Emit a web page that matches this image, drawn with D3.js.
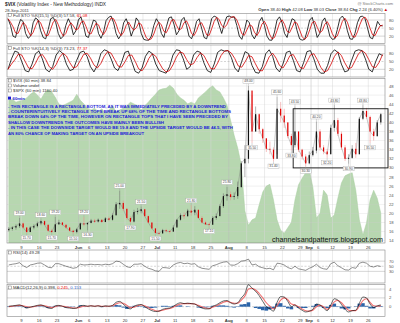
<!DOCTYPE html>
<html><head><meta charset="utf-8">
<script src="https://cdn.jsdelivr.net/npm/d3@7/dist/d3.min.js"></script>
<style>
html,body{margin:0;padding:0;background:#fff;overflow:hidden}
svg{display:block;font-family:"Liberation Sans",Arial,sans-serif}
</style></head><body>
<svg id="chart" width="400" height="323"></svg>
<script>
// ---------------- DATA ----------------
const dates = [
"2011-05-03","2011-05-04","2011-05-05","2011-05-06","2011-05-09","2011-05-10","2011-05-11","2011-05-12","2011-05-13","2011-05-16","2011-05-17","2011-05-18","2011-05-19","2011-05-20","2011-05-23","2011-05-24","2011-05-25","2011-05-26","2011-05-27","2011-05-31",
"2011-06-01","2011-06-02","2011-06-03","2011-06-06","2011-06-07","2011-06-08","2011-06-09","2011-06-10","2011-06-13","2011-06-14","2011-06-15","2011-06-16","2011-06-17","2011-06-20","2011-06-21","2011-06-22","2011-06-23","2011-06-24","2011-06-27","2011-06-28","2011-06-29","2011-06-30",
"2011-07-01","2011-07-05","2011-07-06","2011-07-07","2011-07-08","2011-07-11","2011-07-12","2011-07-13","2011-07-14","2011-07-15","2011-07-18","2011-07-19","2011-07-20","2011-07-21","2011-07-22","2011-07-25","2011-07-26","2011-07-27","2011-07-28","2011-07-29",
"2011-08-01","2011-08-02","2011-08-03","2011-08-04","2011-08-05","2011-08-08","2011-08-09","2011-08-10","2011-08-11","2011-08-12","2011-08-15","2011-08-16","2011-08-17","2011-08-18","2011-08-19","2011-08-22","2011-08-23","2011-08-24","2011-08-25","2011-08-26","2011-08-29","2011-08-30","2011-08-31",
"2011-09-01","2011-09-02","2011-09-06","2011-09-07","2011-09-08","2011-09-09","2011-09-12","2011-09-13","2011-09-14","2011-09-15","2011-09-16","2011-09-19","2011-09-20","2011-09-21","2011-09-22","2011-09-23","2011-09-26","2011-09-27","2011-09-28","2011-09-29"];

const vixLow = [16.0,16.2,16.4,16.8,16.6,15.7,15.9,16.5,16.9,17.4,17.2,15.9,15.7,15.9,17.5,17.2,16.6,16.0,15.5,15.6,
16.4,17.2,16.3,17.8,17.9,18.0,18.0,18.1,18.3,18.4,19.5,21.0,20.5,18.6,17.9,18.0,19.8,20.0,19.2,17.8,16.5,15.5,
15.3,15.6,15.8,15.6,16.0,17.2,18.4,18.8,19.2,19.5,19.6,18.8,17.8,17.5,17.1,18.2,18.6,19.8,21.2,22.8,
22.9,23.0,23.2,25.6,28.0,31.0,35.5,38.0,37.5,35.5,33.5,33.0,31.4,33.0,40.0,38.8,36.5,33.8,34.5,33.5,31.8,30.3,30.8,
32.5,33.2,33.8,33.0,32.2,33.0,38.0,37.0,34.0,31.5,30.9,32.0,32.2,33.0,40.5,40.8,35.5,36.0,36.8,39.5];
const vixHigh = [17.0,17.2,17.6,19.0,18.0,17.0,17.2,17.6,18.2,18.6,18.5,17.6,16.6,19.2,18.6,18.1,17.6,17.0,16.4,16.8,
18.0,19.2,18.0,18.8,18.8,18.9,18.7,19.2,19.3,20.0,22.5,25.0,22.8,21.2,19.4,20.8,21.2,21.5,21.0,19.6,18.0,16.8,
16.2,16.6,16.6,16.4,17.4,18.8,20.0,20.2,21.0,21.8,21.6,20.6,19.4,18.4,18.0,19.4,20.0,22.0,24.4,25.8,
24.8,24.6,27.0,31.5,35.0,48.0,46.0,43.5,42.0,38.8,36.5,35.8,34.5,45.6,44.5,43.0,40.0,37.5,43.5,38.0,34.2,33.0,33.6,
34.6,40.2,38.5,35.0,34.2,39.5,43.8,41.0,38.0,35.0,33.0,35.0,35.5,41.2,43.8,43.2,41.5,38.6,40.5,42.1];
const vixClose = [16.6,16.9,17.2,17.8,16.9,15.9,16.9,17.2,17.8,18.3,17.5,16.2,15.9,17.6,18.0,17.5,16.9,16.2,15.9,16.5,
17.8,17.6,17.9,18.4,18.2,18.6,18.1,18.9,18.6,19.6,22.0,22.3,21.0,19.0,18.2,20.3,20.5,20.9,19.4,18.0,16.7,15.7,
15.6,16.3,16.1,16.0,16.9,18.6,19.6,19.4,20.6,20.2,20.8,19.0,18.0,17.6,17.5,19.0,19.4,21.6,23.8,24.2,
23.6,23.8,25.8,31.0,32.0,47.0,38.0,41.8,38.5,36.5,34.2,34.0,32.0,43.0,41.5,40.0,37.0,35.0,38.0,34.0,32.5,31.0,32.8,
33.8,38.0,34.5,33.6,33.0,38.8,40.5,37.5,34.5,32.0,32.2,34.2,33.0,40.8,42.5,41.2,38.0,37.0,40.0,41.8];

const spx = [1333,1335,1330,1332,1333,1337,1343,1347,1342,1335,1345,1350,1347,1338,1327,1324,1327,1330,1333,1343,
1333,1327,1320,1317,1320,1314,1319,1312,1317,1324,1314,1317,1320,1324,1330,1327,1324,1317,1324,1330,1337,1343,
1350,1352,1353,1358,1353,1343,1337,1333,1327,1330,1327,1337,1342,1347,1353,1357,1350,1347,1337,1325,
1300,1275,1254,1226,1150,1126,1135,1138,1160,1181,1191,1194,1168,1135,1118,1113,1122,1131,1168,1193,1204,1213,1218,
1189,1138,1146,1184,1176,1138,1143,1171,1196,1208,1211,1213,1184,1135,1110,1130,1168,1184,1171,1146];

const sto1K = [85,60,20,15,55,82,75,30,12,20,70,88,80,40,15,10,45,85,90,70,
30,10,20,60,85,65,25,40,80,92,60,20,15,50,80,75,30,12,35,78,
90,95,70,30,10,25,70,85,60,20,45,88,75,30,8,5,5,20,60,85,
70,30,15,55,88,92,65,25,40,80,90,60,20,10,35,75,85,50,15,10,
45,85,95,90,60,30,65,92,95,90,92,60,20,8,40,80,70,25,10,30,
75,90,60,20,5,5,35,80,92,70,30,15,55,85,80,40,10,5,8,40,
80,90,55,15,30,75,88,60,20,8,10,45,85,95,80,40,10,8,30,70,
92,95,85,50,15,10,40,75,60,58];
const sto1D = [85,72,55,32,30,51,71,62,39,21,34,59,79,69,45,22,23,47,73,82,
63,37,20,30,55,70,58,43,48,71,77,57,32,28,48,68,62,39,26,42,
68,88,85,65,37,22,35,60,72,55,42,51,69,64,38,14,6,10,28,55,
72,62,38,33,53,78,82,61,43,48,70,77,57,30,22,40,65,70,50,25,
23,47,75,90,82,60,52,62,84,92,92,81,57,29,23,43,63,58,35,22,
38,65,75,57,28,10,15,40,69,81,64,38,33,52,73,68,43,18,8,18,
43,70,75,53,33,40,64,74,56,29,13,21,47,75,87,72,43,19,16,36,
64,86,91,77,50,25,22,42,58,61];

const sto2K = [20,60,90,85,50,15,10,40,80,90,60,20,10,30,75,92,80,40,15,20,
55,85,90,70,30,10,35,80,95,90,60,25,15,45,85,90,50,12,5,25,
70,90,80,40,15,10,5,30,75,95,92,60,20,30,75,90,85,45,15,8,
40,85,95,90,92,65,25,10,50,88,80,35,8,5,30,80,95,70,25,10,
40,85,90,55,15,10,45,88,92,60,20,5,5,35,80,95,85,40,10,15,
55,90,95,92,60,20,10,50,80,73];
const sto2D = [20,40,57,78,75,50,25,22,43,70,77,57,30,20,38,66,82,71,45,25,
30,53,77,82,63,37,25,42,70,88,82,58,33,28,48,73,75,51,22,14,
33,62,80,70,45,22,10,15,37,67,87,82,57,37,42,65,83,73,48,23,
21,44,73,90,92,82,61,33,28,49,73,68,41,16,14,38,68,82,63,35,
25,45,72,77,53,27,23,48,75,80,57,28,10,15,40,70,87,73,45,22,
27,53,80,92,82,57,30,27,47,77];

const rsi = [55,58,60,64,52,45,55,58,62,63,55,46,44,60,60,55,50,46,42,45,
58,55,56,58,56,57,55,58,56,60,70,68,58,48,45,58,58,60,50,42,38,32,
30,45,44,42,55,62,65,60,62,58,60,48,42,40,38,52,56,62,66,68,
55,54,60,70,72,78,55,58,48,44,40,42,36,62,60,55,45,40,50,40,37,34,42,
48,58,45,40,38,60,66,52,44,36,35,45,42,62,66,62,50,47,52,49.3];

const macdLine = [0.1,0.2,0.3,0.4,0.1,-0.3,-0.1,0.1,0.3,0.4,0.1,-0.3,-0.4,0.2,0.3,0.1,-0.2,-0.3,-0.4,-0.3,
0.2,0.3,0.1,0.2,0.1,0.2,0.0,0.2,0.1,0.3,1.0,1.2,0.6,-0.2,-0.5,0.1,0.4,0.5,0.0,-0.5,-0.9,-1.1,
-1.0,-0.6,-0.4,-0.3,0.1,0.6,0.9,0.7,0.8,0.7,0.6,0.1,-0.3,-0.5,-0.5,0.1,0.4,0.9,1.3,1.4,
0.9,0.6,0.9,2.0,3.0,5.0,4.2,3.5,2.5,1.2,0.0,-0.5,-1.0,1.0,2.3,2.2,1.2,0.0,0.4,-0.3,-0.8,-1.2,-1.0,
-0.6,0.6,0.4,-0.3,-0.9,0.4,1.8,1.5,0.5,-0.6,-1.2,-0.9,-0.8,0.8,2.2,2.0,0.6,-0.2,0.2,0.4];
const macdSignal = [0.0,0.1,0.2,0.3,0.2,0.0,-0.1,0.0,0.2,0.3,0.2,0.0,-0.2,0.0,0.2,0.1,0.0,-0.2,-0.3,-0.3,
-0.1,0.1,0.1,0.2,0.1,0.2,0.1,0.1,0.1,0.2,0.6,0.9,0.8,0.3,-0.2,-0.1,0.2,0.4,0.2,-0.2,-0.6,-0.9,
-1.0,-0.8,-0.6,-0.4,-0.1,0.3,0.6,0.7,0.7,0.7,0.6,0.3,0.0,-0.3,-0.4,-0.1,0.2,0.6,1.0,1.2,
1.0,0.8,0.8,1.5,2.4,4.0,4.2,3.8,3.0,2.0,0.9,0.1,-0.5,0.3,1.5,2.0,1.6,0.6,0.4,0.0,-0.5,-0.9,-1.0,
-0.8,0.0,0.3,0.0,-0.6,0.0,1.1,1.4,0.9,0.0,-0.8,-0.9,-0.9,0.1,1.4,1.8,1.0,0.2,0.1,0.25];
const macdHist = [0.1,0.1,0.1,0.1,-0.1,-0.3,0.0,0.1,0.1,0.1,-0.1,-0.3,-0.2,0.2,0.1,0.0,-0.2,-0.1,-0.1,0.0,
0.3,0.2,0.0,0.0,0.0,0.0,-0.1,0.1,0.0,0.1,0.4,0.3,-0.2,-0.5,-0.3,0.2,0.2,0.1,-0.2,-0.3,-0.3,-0.2,
0.0,0.2,0.2,0.1,0.2,0.3,0.3,0.0,0.1,0.0,0.0,-0.2,-0.3,-0.2,-0.1,0.2,0.2,0.3,0.3,0.2,
-0.1,-0.2,0.1,0.5,0.6,1.0,0.0,-0.3,-0.5,-0.8,-0.9,-0.6,-0.5,0.7,0.8,0.2,-0.4,-0.6,0.0,-0.3,-0.3,-0.3,0.0,
0.2,0.6,0.1,-0.3,-0.3,0.4,0.7,0.1,-0.4,-0.6,-0.4,0.0,0.1,0.7,0.8,0.2,-0.4,-0.4,0.1,0.15];

const tickDates = ["2011-05-09","2011-05-16","2011-05-23","2011-06-01","2011-06-06","2011-06-13","2011-06-20","2011-06-27","2011-07-01","2011-07-11","2011-07-18","2011-07-25","2011-08-01","2011-08-08","2011-08-15","2011-08-22","2011-08-29","2011-09-01","2011-09-06","2011-09-12","2011-09-19","2011-09-26"];
const tickLabels = ["9","16","23","Jun","6","13","20","27","Jul","11","18","25","Aug","8","15","22","29","Sep","6","12","19","26"];
const monthLabels = ["Jun","Jul","Aug","Sep"];
const mainTicks = [14,16,18,20,22,24,26,28,30,32,34,36,38,40,42,44,46,48];
const stoTicks = [20,50,80];
const rsiTicks = [30,50,70];
const macdTicks = [0,2,4];

const highLabelDays = [3,9,13,21,31,37,51,61,67,75,80,86,91,99];
const lowLabelDays = [5,12,18,22,34,41,56,68,74,79,83,89,95,101];

const rectStartDay = "2011-08-25", rectTop = 43.0, rectBottom = 30.0;

const noteLines = [
"- THIS RECTANGLE IS A RECTANGLE BOTTOM, AS IT WAS IMMEDIATELY PRECEDED BY A DOWNTREND",
"- COUNTERINTUITIVELY RECTANGLE TOPS BREAK UP 68% OF THE TIME AND RECTANGLE BOTTOMS",
"BREAK DOWN 64% OF THE TIME, HOWEVER ON RECTANGLE TOPS THAT I HAVE SEEN PRECEDED BY",
"SHALLOW DOWNTRENDS THE OUTCOMES HAVE MAINLY BEEN BULLISH",
"- IN THIS CASE THE DOWNSIDE TARGET WOULD BE 19.8 AND THE UPSIDE TARGET WOULD BE 44.5, WITH",
"AN 80% CHANCE OF MAKING TARGET ON AN UPSIDE BREAKOUT"];
const noteWidths = [218,223,220,156,225,136];

// ---------------- LAYOUT ----------------
const svg = d3.select("#chart");
const L = 7, R = 385, dataR = 382.6, AX = 389;
const P = {
  sto1:{t:13.5,b:43.5},
  sto2:{t:45,b:77},
  main:{t:78.5,b:243},
  rsi:{t:250,b:283},
  macd:{t:284.5,b:316.5}
};
const x = d3.scaleBand().domain(dates).range([L, dataR]);
const xc = d => x(d) + x.bandwidth()/2;
const xi = i => xc(dates[i]);

const yMain = d3.scaleLinear().domain([14,48]).range([240.7,86]);
const ySpx = d3.scaleLinear().domain([1100,1370]).range([241,78]);
const ySto1 = d3.scaleLinear().domain([0,100]).range([41.5,14.7]);
const ySto2 = d3.scaleLinear().domain([0,100]).range([74.5,48.5]);
const yRsi = d3.scaleLinear().domain([0,100]).range([279,253.5]);
const yMacd = d3.scaleLinear().domain([-2,5]).range([315.5,284.7]);

function txt(g, xx, yy, s, size, o={}) {
  const e = g.append("text").attr("x",xx).attr("y",yy).style("font-size",size+"px").text(s);
  if (o.fill) e.attr("fill",o.fill);
  if (o.weight) e.style("font-weight",o.weight);
  if (o.anchor) e.attr("text-anchor",o.anchor);
  if (o.len) e.attr("textLength",o.len).attr("lengthAdjust","spacingAndGlyphs");
  return e;
}

Object.values(P).forEach(p => {
  svg.append("rect").attr("x",L).attr("y",p.t).attr("width",R-L).attr("height",p.b-p.t).attr("fill","#fff");
});

const clipMain = svg.append("clipPath").attr("id","clipMain");
clipMain.append("rect").attr("x",L).attr("y",P.main.t).attr("width",R-L).attr("height",P.main.b-P.main.t);

// SPX green area
const area = d3.area().x((d,i)=>xi(i)).y0(P.main.b).y1(d=>ySpx(d)).curve(d3.curveLinear);
svg.append("path").datum(spx).attr("d",area).attr("fill","#b7d7b0").attr("stroke","#a9cfa0").attr("stroke-width",0.5).attr("clip-path","url(#clipMain)");

// grids
Object.values(P).forEach(p => {
  tickDates.forEach((d,i) => {
    const isM = monthLabels.includes(tickLabels[i]);
    svg.append("line").attr("x1",x(d)).attr("x2",x(d)).attr("y1",p.t).attr("y2",p.b)
      .attr("stroke", isM ? "#b8b8b8" : "#d8d8d8").attr("stroke-width",0.5);
  });
});
mainTicks.forEach(v => {
  svg.append("line").attr("x1",L).attr("x2",R).attr("y1",yMain(v)).attr("y2",yMain(v)).attr("stroke","#cfcfcf").attr("stroke-width",0.35).attr("opacity",0.8);
  txt(svg, AX, yMain(v)+1.5, String(v), 4.2, {fill:"#555"});
});
function hgrid(scale, ticks, mid) {
  ticks.forEach(v => {
    svg.append("line").attr("x1",L).attr("x2",R).attr("y1",scale(v)).attr("y2",scale(v))
      .attr("stroke","#aaa").attr("stroke-width",0.5).attr("stroke-dasharray", v===mid ? "2,1.5" : null);
    txt(svg, AX, scale(v)+1.5, String(v), 4.2, {fill:"#555"});
  });
}
hgrid(ySto1, stoTicks, 50);
hgrid(ySto2, stoTicks, 50);
hgrid(yRsi, rsiTicks, 50);
hgrid(yMacd, macdTicks, 0);

Object.values(P).forEach(p => {
  svg.append("rect").attr("x",L).attr("y",p.t).attr("width",R-L).attr("height",p.b-p.t)
    .attr("fill","none").attr("stroke","#888").attr("stroke-width",0.6);
});

// ---------- STO panels ----------
function stoLines(K, D, ys) {
  const xs = d3.scaleLinear().domain([0, K.length-1]).range([L+1, dataR]);
  const ln = d3.line().x((d,i)=>xs(i)).y(d=>ys(d));
  svg.append("path").datum(K).attr("d",ln).attr("fill","none").attr("stroke","#000").attr("stroke-width",0.8);
  svg.append("path").datum(D).attr("d",ln).attr("fill","none").attr("stroke","#d40000").attr("stroke-width",0.8);
}
stoLines(sto1K, sto1D, ySto1);
stoLines(sto2K, sto2D, ySto2);

// ---------- main candles ----------
const gMain = svg.append("g").attr("clip-path","url(#clipMain)");
const closeLine = d3.line().x((d,i)=>xi(i)).y(d=>yMain(d));
gMain.append("path").datum(vixClose).attr("d",closeLine).attr("fill","none").attr("stroke","#777").attr("stroke-width",0.4);
dates.forEach((d,i) => {
  const o = i===0 ? 16.3 : vixClose[i-1], c = vixClose[i];
  const up = c >= o;
  const col = up ? "#111" : "#e00000";
  gMain.append("line").attr("x1",xc(d)).attr("x2",xc(d)).attr("y1",yMain(vixLow[i])).attr("y2",yMain(vixHigh[i]))
    .attr("stroke", up ? "#666" : "#ee8080").attr("stroke-width",0.5);
  const y0 = yMain(Math.max(o,c)), y1 = yMain(Math.min(o,c));
  gMain.append("rect").attr("x",xc(d)-0.6).attr("width",1.2).attr("y",y0).attr("height",Math.max(0.7,y1-y0)).attr("fill",col);
});

// rectangle
svg.append("rect").attr("x",x(rectStartDay)).attr("y",yMain(rectTop))
  .attr("width",388-x(rectStartDay)).attr("height",yMain(rectBottom)-yMain(rectTop))
  .attr("fill","none").attr("stroke","#111").attr("stroke-width",0.9);

// price labels
function pLabel(i, isHigh) {
  const v = isHigh ? vixHigh[i] : vixLow[i];
  const cx = xi(i);
  const by = isHigh ? yMain(v) - 7 : yMain(v) + 2.5;
  svg.append("line").attr("x1",cx).attr("x2",cx).attr("y1", isHigh ? by+4.5 : yMain(v)).attr("y2", isHigh ? yMain(v) : by)
    .attr("stroke","#999").attr("stroke-width",0.4);
  svg.append("rect").attr("x",cx-5.5).attr("y",by).attr("width",11).attr("height",4.5).attr("fill","#fff").attr("stroke","#aaa").attr("stroke-width",0.4);
  txt(svg, cx, by+3.4, v.toFixed(2), 3.3, {fill:"#444", anchor:"middle"});
}
highLabelDays.forEach(i => pLabel(i,true));
lowLabelDays.forEach(i => pLabel(i,false));

// ---------- RSI ----------
const rsiLine = d3.line().x((d,i)=>xi(i)).y(d=>yRsi(d));
svg.append("path").datum(rsi).attr("d",rsiLine).attr("fill","none").attr("stroke","#222").attr("stroke-width",0.5);

// ---------- MACD ----------
dates.forEach((d,i) => {
  const v = macdHist[i];
  svg.append("rect").attr("x",x(d)).attr("width",x.bandwidth()).attr("y",Math.min(yMacd(v),yMacd(0)))
    .attr("height",Math.abs(yMacd(v)-yMacd(0))).attr("fill","#2b64a8");
});
const mLine = d3.line().x((d,i)=>xi(i)).y(d=>yMacd(d)).curve(d3.curveMonotoneX);
svg.append("path").datum(macdSignal).attr("d",mLine).attr("fill","none").attr("stroke","#f07070").attr("stroke-width",1.1);
svg.append("path").datum(macdLine).attr("d",mLine).attr("fill","none").attr("stroke","#000").attr("stroke-width",0.6);

// ---------- date axes ----------
[P.main.b+5.5, P.macd.b+5.2].forEach(yy => {
  tickDates.forEach((d,i) => {
    const isM = monthLabels.includes(tickLabels[i]);
    txt(svg, x(d)-(tickLabels[i]==="Sep"?2:0), yy, tickLabels[i], 4.2, {fill:"#333", anchor:"middle", weight: isM?"bold":null});
  });
});

// ---------- header & legends ----------
const h = svg.append("text").attr("x",5).attr("y",6).style("font-size","4.8px").attr("fill","#222");
h.append("tspan").style("font-weight","bold").text("$VIX");
h.append("tspan").text(" (Volatility Index - New Methodology) INDX");
txt(svg, 5, 12, "28-Sep-2011", 4.2, {fill:"#444"});
txt(svg, 393, 4.5, "@ StockCharts.com", 4, {fill:"#777", anchor:"end"});
const oh = svg.append("text").attr("x",388).attr("y",10.5).attr("text-anchor","end").style("font-size","4.2px").attr("fill","#333");
[["Open ","38.40 "],["High ","42.08 "],["Low ","38.03 "],["Close ","38.84 "],["Chg ","2.24 (6.40%)"]].forEach(p=>{
  oh.append("tspan").style("font-weight","bold").text(p[0]);
  oh.append("tspan").text(p[1]);
});
oh.append("tspan").attr("fill","#c00").text(" \u25B2");

function legend(yy, parts) {
  svg.append("rect").attr("x",8.5).attr("y",yy-3).attr("width",3).attr("height",3).attr("fill","#fff").attr("stroke","#555").attr("stroke-width",0.4);
  const t = svg.append("text").attr("x",13).attr("y",yy).style("font-size","4.3px").attr("fill","#333");
  parts.forEach(p => t.append("tspan").attr("fill",p[1]||"#333").text(p[0]));
}
legend(16.5, [["Full STO %K(15,5) %D(3) 57.58, "],["61.08","#e00"]]);
legend(49.5, [["Full STO %K(14,3) %D(3) 73.23, "],["77.37","#e00"]]);
legend(82, [["$VIX (60 min) 38.84"]]);
legend(87, [["Volume undef"]]);
legend(92, [["$SPX (60 min) 1160.40"]]);
legend(254, [["RSI(14) 49.28"]]);
legend(289, [["MACD(12,26,9) 0.398, "],["0.245","#e00"],[", "],["0.153","#36c"]]);

svg.append("rect").attr("x",8).attr("y",96.6).attr("width",3).attr("height",3).attr("fill","#1a1ad0");
txt(svg, 12.5, 99.6, "60min", 4.3, {fill:"#1a1ad0", weight:"bold"});

noteLines.forEach((s,i) => {
  txt(svg, 8, 107.5 + i*5.4, s, 4.4, {fill:"#1c1cd8", weight:"bold", len: noteWidths[i]});
});

txt(svg, 272, 242, "channelsandpatterns.blogspot.com", 7, {fill:"#111", len:111});
</script>
</body></html>
